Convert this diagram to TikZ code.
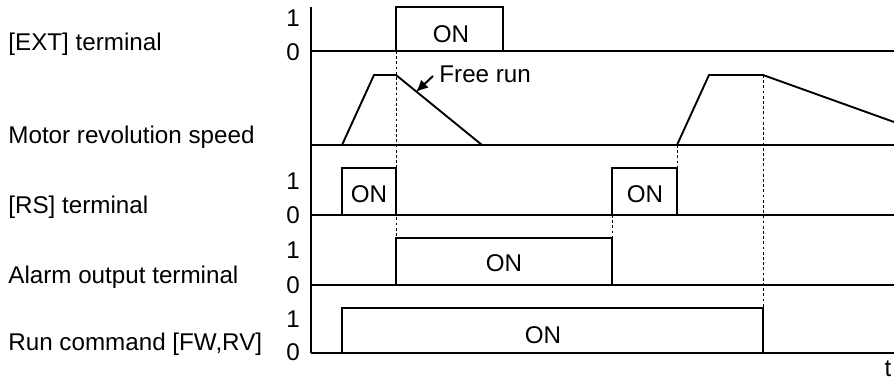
\documentclass[tikz,border=0pt]{standalone}
\usepackage{fontspec}
\setmainfont{Liberation Sans}
\usetikzlibrary{arrows.meta}
\begin{document}
\begin{tikzpicture}[x=0.5pt,y=-0.5pt,
  sig/.style={line width=0.95pt,line join=miter},
  guide/.style={line width=0.45pt,dash pattern=on 1.4pt off 1.2pt},
  lbl/.style={font=\fontsize{12.1}{14}\selectfont,inner sep=0pt},
  row/.style={lbl,anchor=west},
  lvl/.style={lbl,anchor=center}]
\useasboundingbox (0,0) rectangle (894,380);
% axis
\draw[sig] (311,7) -- (311,353);
% baselines
\draw[sig] (311,51) -- (894,51);
\draw[sig] (311,145) -- (894,145);
\draw[sig] (311,215) -- (894,215);
\draw[sig] (311,285) -- (894,285);
\draw[sig] (311,353) -- (894,353);
% guides
\draw[guide] (396,51) -- (396,238);
\draw[guide] (677,145) -- (677,168);
\draw[guide] (612,215) -- (612,238);
\draw[guide] (763,75) -- (763,308);
% EXT pulse
\draw[sig] (396,51) -- (396,7) -- (503,7) -- (503,51);
% motor speed
\draw[sig] (342,145) -- (374,75) -- (396,75) -- (482,145);
\draw[sig] (677,145) -- (709,75) -- (763,75) -- (894,122);
% RS pulses
\draw[sig] (342,215) -- (342,168) -- (396,168) -- (396,215);
\draw[sig] (612,215) -- (612,168) -- (677,168) -- (677,215);
% alarm
\draw[sig] (396,285) -- (396,238) -- (612,238) -- (612,285);
% run
\draw[sig] (342,353) -- (342,308) -- (763,308) -- (763,353);
% free run arrow
\node[lbl,anchor=west] (fr) at (439,74) {Free run};
\coordinate (frs) at (433,76);
\coordinate (frt) at (416,92);
\draw[line width=1pt,-{Latex[length=6pt,width=5.5pt]}] (frs) -- (frt);
% ON labels
\node[lvl] (on1) at (451,34) {ON};
\node[lvl] (on2) at (369,194) {ON};
\node[lvl] (on3) at (645,194) {ON};
\node[lvl] (on4) at (504,263) {ON};
\node[lvl] (on5) at (543,335) {ON};
% level digits
\node[lvl] (e1) at (293,18) {1};
\node[lvl] (e0) at (293,52) {0};
\node[lvl] (r1) at (293,181) {1};
\node[lvl] (r0) at (293,215) {0};
\node[lvl] (a1) at (293,250) {1};
\node[lvl] (a0) at (293,285) {0};
\node[lvl] (c1) at (293,319) {1};
\node[lvl] (c0) at (293,352) {0};
% row labels
\node[row] (lext) at (8,44) {[EXT] terminal};
\node[row] (lmot) at (8,137) {Motor revolution speed};
\node[row] (lrs) at (8,207) {[RS] terminal};
\node[row] (lal) at (8,277) {Alarm output terminal};
\node[row] (lrun) at (8,344) {Run command [FW,RV]};
\node[lvl] (t) at (888,369) {t};
\end{tikzpicture}
\end{document}
